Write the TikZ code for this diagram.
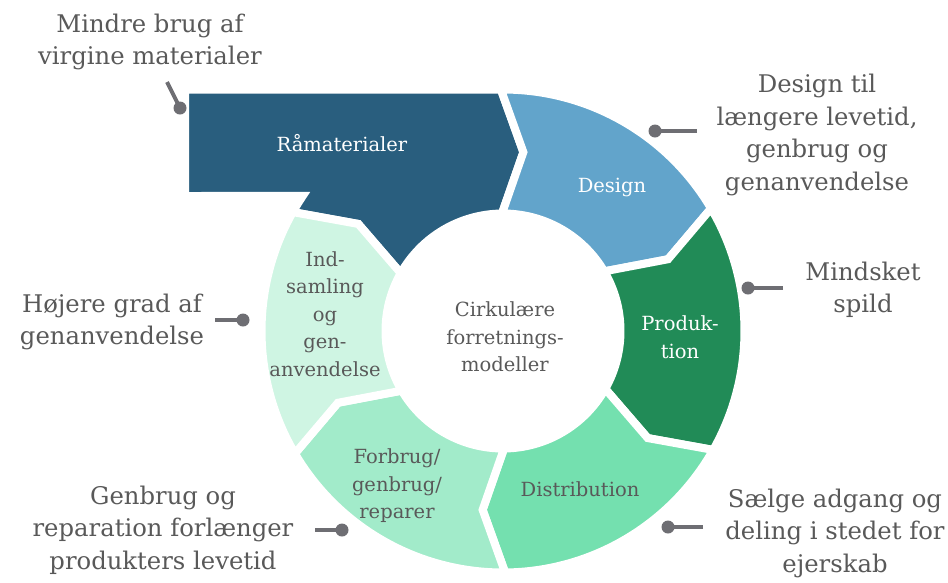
\documentclass[tikz,border=0pt]{standalone}
\usepackage{fontspec}
\setmainfont{DejaVu Serif}
\usepackage{xcolor}
\usepackage{tikz}
\definecolor{ramblue}{HTML}{295E7E}
\definecolor{designblue}{HTML}{62A4CB}
\definecolor{prodgreen}{HTML}{218B57}
\definecolor{distgreen}{HTML}{74E0AF}
\definecolor{forbruggreen}{HTML}{A2EBCA}
\definecolor{indgreen}{HTML}{CFF5E3}
\definecolor{labgray}{HTML}{595959}
\definecolor{dotgray}{HTML}{6E6E73}

\begin{document}
\begin{tikzpicture}[x=1pt,y=1pt,
	seg/.style={draw=white,line width=8pt,line join=miter},
	intext/.style={align=center,inner sep=0pt,font=\fontsize{19.5}{27.5}\selectfont},
	outtext/.style={align=center,inner sep=0pt,text=labgray,font=\fontsize{24.3}{32.5}\selectfont},
	conn/.style={draw=dotgray,line width=4pt},
	dot/.style={circle,fill=dotgray,minimum size=13pt,inner sep=0pt}]
	\newcommand\Seg[2]{(#1:241.5) arc[start angle=#1,end angle=#2,radius=241.5] -- ({#2-7}:180) -- (#2:117.5) arc[start angle=#2,end angle=#1,radius=117.5] -- ({#1-7}:180) -- cycle}

	\useasboundingbox (0,0) rectangle (948,-582);

	% ring
	\begin{scope}[shift={(503,-331)}]
		\draw[seg,fill=ramblue] (-318,241.5) -- (90.5:241.5) -- (83.5:180) -- (90.5:117.5) arc[start angle=90.5,end angle=150.5,radius=117.5] -- (143.5:180) -- (150.5:241.5) arc[start angle=150.5,end angle=146,radius=241.5] -- (-318,135) -- cycle;
		\draw[seg,fill=designblue] \Seg{90.5}{30.5};
		\draw[seg,fill=prodgreen] \Seg{30.5}{-29.5};
		\draw[seg,fill=distgreen] \Seg{-29.5}{-89.5};
		\draw[seg,fill=forbruggreen] \Seg{-89.5}{-149.5};
		\draw[seg,fill=indgreen] \Seg{-149.5}{-209.5};
	\end{scope}

	% texts in the ring
	\node[intext,text=white] (ram) at (342,-143) {Råmaterialer};
	\node[intext,text=white] (design) at (612,-187) {Design};
	\node[intext,text=white] (prod) at (680,-337) {Produk-\\tion};
	\node[intext,text=labgray] (dist) at (580,-489) {Distribution};
	\node[intext,text=labgray] (forbrug) at (397,-486) {Forbrug/\\genbrug/\\reparer};
	\node[intext,text=labgray] (indsaml) at (325,-314) {Ind-\\samling\\og\\gen-\\anvendelse};
	\node[intext,text=labgray] (midt) at (505,-337) {Cirkulære\\forretnings-\\modeller};

	% texts outside
	\node[outtext] (virgin) at (150,-42) {Mindre brug af\\virgine materialer};
	\node[outtext] (levetid) at (817,-135) {Design til\\længere levetid,\\genbrug og\\genanvendelse};
	\node[outtext] (spild) at (863,-290) {Mindsket\\spild};
	\node[outtext] (hojere) at (112,-322) {Højere grad af\\genanvendelse};
	\node[outtext] (reparation) at (163,-530) {Genbrug og\\reparation forlænger\\produkters levetid};
	\node[outtext] (deling) at (835,-533) {Sælge adgang og\\deling i stedet for\\ejerskab};

	% connectors
	\node[dot] (d1) at (180,-108) {};
	\node[dot] (d2) at (655,-131) {};
	\node[dot] (d3) at (748,-288) {};
	\node[dot] (d4) at (243,-320) {};
	\node[dot] (d5) at (342,-530) {};
	\node[dot] (d6) at (668,-527) {};
	\coordinate (e1) at (167,-82);
	\coordinate (e2) at (697,-131);
	\coordinate (e3) at (783,-288);
	\coordinate (e4) at (215,-320);
	\coordinate (e5) at (315,-530);
	\coordinate (e6) at (703,-527);
	\draw[conn] (e1) -- (d1.center);
	\draw[conn] (e2) -- (d2.center);
	\draw[conn] (e3) -- (d3.center);
	\draw[conn] (e4) -- (d4.center);
	\draw[conn] (e5) -- (d5.center);
	\draw[conn] (e6) -- (d6.center);
\end{tikzpicture}
\end{document}
